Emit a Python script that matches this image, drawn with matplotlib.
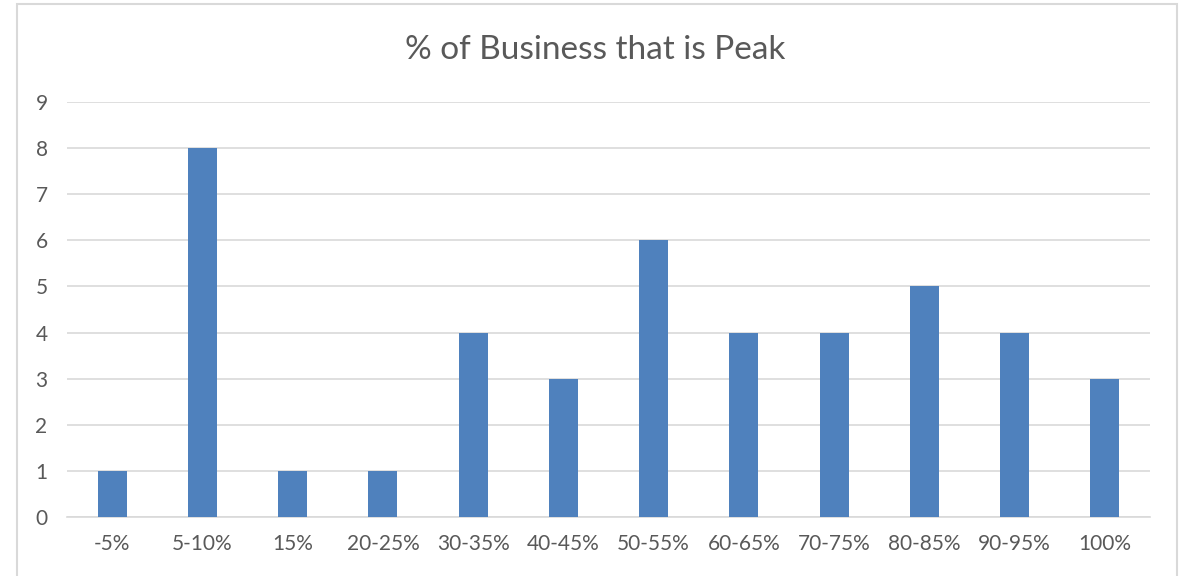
import matplotlib.pyplot as plt
import numpy as np

categories = ["-5%", "5-10%", "15%", "20-25%", "30-35%", "40-45%",
              "50-55%", "60-65%", "70-75%", "80-85%", "90-95%", "100%"]
counts = [1, 8, 1, 1, 4, 3, 6, 4, 4, 5, 4, 3]

plt.rcParams['font.family'] = ['Lato', 'DejaVu Sans']

fig = plt.figure(figsize=(11.83, 5.76), dpi=100)
# outer chart border
fig.patches.append(plt.Rectangle((17 / 1183, -0.01), (1177 - 17) / 1183, 1.0 - 4 / 576 + 0.01,
                                 transform=fig.transFigure, fill=False,
                                 edgecolor="#d9d9d9", linewidth=1.5))

ax = fig.add_axes([67 / 1183, 1 - 517 / 576, (1150 - 67) / 1183, (517 - 102) / 576])
x = np.arange(len(categories))
ax.bar(x, counts, width=0.32, color="#4f81bd", zorder=3)

ax.set_xlim(-0.5, len(categories) - 0.5)
ax.set_ylim(0, 9)
ax.set_yticks(range(10))
ax.set_xticks(x)
ax.set_xticklabels(categories)
ax.grid(axis="y", color="#d9d9d9", linewidth=1.2, zorder=0)
for s in ["top", "right", "left"]:
    ax.spines[s].set_visible(False)
ax.spines["bottom"].set_color("#d9d9d9")
ax.spines["bottom"].set_linewidth(1.2)
ax.tick_params(axis="both", length=0, labelsize=15, colors="#595959")
ax.tick_params(axis="x", pad=12)
ax.tick_params(axis="y", pad=14)

fig.text(0.503, 1 - 50 / 576, "% of Business that is Peak", ha="center", va="center",
         fontsize=24, color="#595959")

fig.savefig("out.png", dpi=100)
